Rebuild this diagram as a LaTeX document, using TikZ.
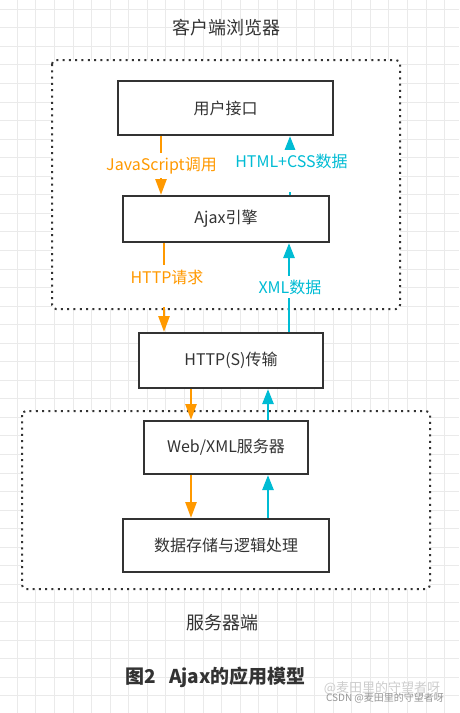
\documentclass[tikz,border=0pt]{standalone}
\usepackage{fontspec}
\setmainfont{Noto Sans CJK SC}
\usetikzlibrary{arrows.meta}
\definecolor{ora}{RGB}{255,153,0}
\definecolor{cya}{RGB}{0,188,212}
\definecolor{ink}{RGB}{51,51,51}
\definecolor{gridc}{RGB}{234,234,234}
\definecolor{wm}{RGB}{205,205,205}
\definecolor{wm2}{RGB}{150,150,150}
\begin{document}
\begin{tikzpicture}[x=1pt,y=-1pt,
  box/.style={draw=ink,line width=2pt,fill=white,text=ink,font=\fontsize{16}{19}\selectfont,inner sep=0pt},
  container/.style={draw=ink,line width=2pt,dash pattern=on 2pt off 4.3pt,fill=white,rounded corners=4pt},
  oarr/.style={draw=ora,line width=2.6pt,-{Triangle[width=11pt,length=16pt]}},
  carr/.style={draw=cya,line width=2.6pt,-{Triangle[width=11pt,length=15pt]}},
  lab/.style={font=\fontsize{16}{19}\selectfont,inner sep=0pt},
  region/.style={font=\fontsize{18}{21}\selectfont,text=ink,inner sep=0pt}]
\useasboundingbox (0,0) rectangle (459,713);
\fill[white] (0,0) rectangle (459,713);
% grid
\foreach \i in {0,...,25} \draw[gridc,line width=1pt] ({-1.25+18.58*\i},0) -- ({-1.25+18.58*\i},713);
\foreach \j in {0,...,38} \draw[gridc,line width=1pt] (0,{9.3+18.55*\j}) -- (459,{9.3+18.55*\j});
% containers
\path[container] (52,60) rectangle (400,309);
\path[container] (22,411) rectangle (430,589);
% boxes
\node[box,minimum width=215pt,minimum height=54pt] (ui) at (225.5,108) {用户接口};
\node[box,minimum width=206pt,minimum height=46pt] (ajax) at (226,219) {Ajax引擎};
\node[box,minimum width=184pt,minimum height=55pt] (http) at (231,360.5) {HTTP(S)传输};
\node[box,minimum width=164pt,minimum height=53pt] (web) at (226,447.5) {Web/XML服务器};
\node[box,minimum width=206pt,minimum height=53pt] (data) at (226,545.5) {数据存储与逻辑处理};
% x positions
\coordinate (xa) at (161,0);
\coordinate (xb) at (290,0);
\coordinate (xc) at (164,0);
\coordinate (xd) at (289,0);
\coordinate (xe) at (191,0);
\coordinate (xf) at (268,0);
% arrows
\draw[oarr] (ui.south -| xa) -- (ajax.north -| xa);
\draw[carr] (ajax.north -| xb) -- (ui.south -| xb);
\draw[oarr] (ajax.south -| xc) -- (http.north -| xc);
\draw[carr] (http.north -| xd) -- (ajax.south -| xd);
\draw[oarr] (http.south -| xe) -- (web.north -| xe);
\draw[carr] (web.north -| xf) -- (http.south -| xf);
\draw[oarr] (web.south -| xe) -- (data.north -| xe);
\draw[carr] (data.north -| xf) -- (web.south -| xf);
% label gaps
\fill[white] (100,153) rectangle (222,178);
\fill[white] (228,150) rectangle (356,192);
\fill[white] (120,265) rectangle (215,307);
\fill[white] (248,276) rectangle (332,298);
% labels
\node[lab,text=ora] (l1) at (161.5,165.5) {JavaScript调用};
\node[lab,text=cya] (l2) at (291.5,161) {HTML+CSS数据};
\node[lab,text=ora] (l3) at (167,277) {HTTP请求};
\node[lab,text=cya] (l4) at (290,287) {XML数据};
% region titles
\node[region] (t1) at (226,28) {客户端浏览器};
\node[region] (t2) at (222,623) {服务器端};
\node[font=\fontsize{19}{22}\selectfont\bfseries,text=ink,inner sep=0pt] (cap) at (215.5,677) {图2\hspace{0.7em}Ajax的应用模型};
% watermark
\node[font=\fontsize{13}{15}\selectfont,text=wm,inner sep=0pt] (w1) at (382,688) {@麦田里的守望者呀};
\node[font=\fontsize{10}{12}\selectfont,text=wm2,inner sep=0pt] (w2) at (385,698) {CSDN @麦田里的守望者呀};
\end{tikzpicture}
\end{document}
